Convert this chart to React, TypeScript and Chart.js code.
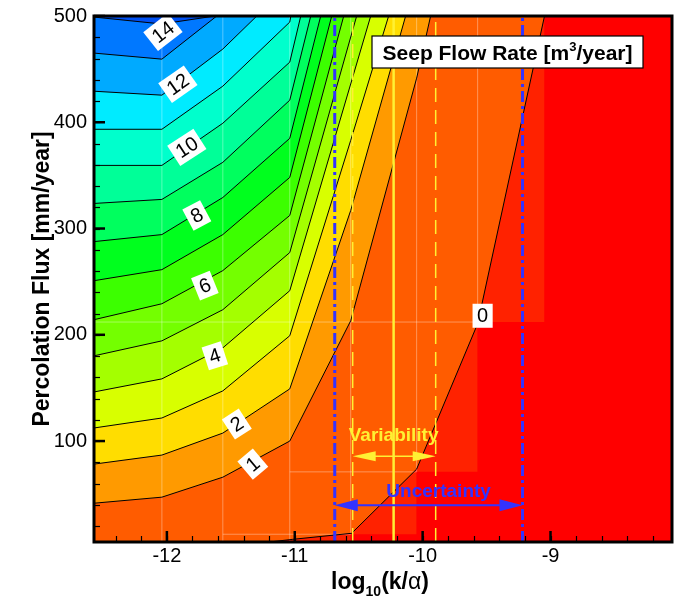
import React, { useEffect, useRef } from 'react';
import { Chart, registerables } from 'chart.js';

Chart.register(...registerables);

const FONT = '"Liberation Sans", Arial, Helvetica, sans-serif';

// Axis ranges and ticks
const X_MIN = -12.57;
const X_MAX = -8.05;
const Y_MIN = 5;
const Y_MAX = 500;
const xMajorTicks = [-12, -11, -10, -9];
const yMajorTicks = [100, 200, 300, 400, 500];
const xMinorStep = 0.2;
const yMinorStep = 20;

// Contour levels (m^3/year) and their polylines [log10(k/alpha), flux]
const contourLevels = [0, 1, 2, 3, 4, 5, 6, 7, 8, 9, 10, 11, 12, 13, 14];
const c0 = [[-11.2, 5], [-11.016, 7.5], [-10.555, 13.2], [-10.047, 73.6], [-9.57, 210.4], [-9.047, 500]];
const c1 = [[-12.57, 41.5], [-12.039, 47.2], [-11.5625, 66.0], [-11.039, 100.0], [-10.5625, 213.2], [-10.047, 441.5], [-9.9375, 500]];
const c2 = [[-12.57, 78.3], [-12.039, 86.8], [-11.5625, 107.5], [-11.039, 149.1], [-10.5625, 317.0], [-10.133, 500]];
const c3 = [[-12.57, 112.3], [-12.039, 121.7], [-11.5625, 147.2], [-11.039, 199.1], [-10.5625, 383.0], [-10.266, 500]];
const c4 = [[-12.57, 146.2], [-12.039, 158.5], [-11.5625, 187.7], [-11.039, 241.5], [-10.406, 500]];
const c5 = [[-12.57, 180.2], [-12.039, 194.3], [-11.5625, 223.6], [-11.039, 277.4], [-10.516, 500]];
const c6 = [[-12.57, 214.2], [-12.039, 229.2], [-11.5625, 260.4], [-11.039, 312.3], [-10.617, 500]];
const c7 = [[-12.57, 250.9], [-12.039, 261.3], [-11.5625, 294.3], [-11.039, 348.1], [-10.711, 500]];
const c8 = [[-12.57, 287.7], [-12.039, 294.3], [-11.5625, 329.2], [-11.039, 384.9], [-10.797, 500]];
const c9 = [[-12.57, 323.6], [-12.039, 327.4], [-11.5625, 362.3], [-11.039, 420.8], [-10.875, 500]];
const c10 = [[-12.57, 359.4], [-12.039, 359.4], [-11.5625, 399.1], [-11.039, 456.6], [-10.953, 500]];
const c11 = [[-12.57, 393.4], [-12.039, 393.4], [-11.5625, 434.0], [-11.039, 494.3], [-11.031, 500]];
const c12 = [[-12.57, 429.2], [-12.039, 425.5], [-11.5625, 468.9], [-11.297, 500]];
const c13 = [[-12.57, 465.1], [-12.039, 459.4], [-11.61, 500]];
const c14 = [[-12.57, 499], [-12.039, 492.5], [-11.625, 500]];
const contours = [c0, c1, c2, c3, c4, c5, c6, c7, c8, c9, c10, c11, c12, c13, c14];

// Band colour above each level
const bandColors = [
  '#FF5C00', '#FF9A00', '#FFDD00', '#D8FF00', '#A4FF00', '#74FF00', '#3CFF00', '#00FF1E',
  '#00FF5E', '#00FF98', '#00FFCC', '#00EBFF', '#00AAFF', '#0078FF', '#0050F2',
];
const belowZeroColor = '#FF0000';
const cellColor = '#FF2200';

// Slightly different red cells right of the 0 contour
const cellX0 = [-11.039, -10.5625, -10.047, -9.57];
const cellX1 = [-10.5625, -10.047, -9.57, -9.047];
const cellY0 = [5, 12.3, 71, 212];
const cellY1 = [12.3, 71, 212, 500];

// Faint data mesh lines
const meshX = [-12.039, -11.5625, -11.039, -10.5625, -10.047, -9.57];
const meshXFrom = [5, 5, 5, 12.3, 71, 212];
const meshY = [12.3, 71, 212];
const meshYFrom = [-11.5625, -11.039, -12.57];
const meshYTo = [-10.5625, -10.047, -9.57];

// Contour labels
const labelText = ['14', '12', '10', '8', '6', '4', '2', '1', '0'];
const labelX = [-12.031, -11.914, -11.844, -11.766, -11.703, -11.625, -11.453, -11.328, -9.531];
const labelY = [484.9, 435.8, 376.4, 312.3, 246.2, 180.2, 116.0, 78.3, 217.9];
const labelAngle = [-38, -35, -33, -28, -22, -18, -33, -40, 0];

// Variability / uncertainty annotations
const bestEstimateX = -10.227;
const variabilityRange = [-10.547, -9.898];
const variabilityArrowY = 85.8;
const variabilityTextPos = [-10.227, 104.7];
const uncertaintyRange = [-10.6875, -9.219];
const uncertaintyArrowY = 39.6;
const uncertaintyTextPos = [-9.875, 51.9];

const YELLOW = '#FFF033';
const BLUE = '#3333FF';

const toPts = (arr: number[][]) => arr.map(([x, y]) => ({ x, y }));

function buildDatasets() {
  const ds: any[] = [];
  const base = { pointRadius: 0, pointHoverRadius: 0, tension: 0 };
  cellX0.forEach((x0, i) => {
    ds.push({
      ...base,
      data: [{ x: x0, y: cellY1[i] }, { x: cellX1[i], y: cellY1[i] }],
      fill: { value: cellY0[i] },
      backgroundColor: cellColor,
      borderColor: 'rgba(0,0,0,0)',
      borderWidth: 0,
      order: 1000,
    });
  });
  contours.forEach((c, k) => {
    const pts = k === 0 ? [[X_MIN, Y_MIN], ...c] : c;
    ds.push({
      ...base,
      data: toPts(pts),
      fill: 'end',
      backgroundColor: bandColors[k],
      borderColor: 'rgba(0,0,0,0)',
      borderWidth: 0,
      order: 900 - contourLevels[k],
    });
  });
  meshX.forEach((x, i) => {
    ds.push({
      ...base,
      data: [{ x, y: meshXFrom[i] }, { x, y: Y_MAX }],
      fill: false,
      borderColor: 'rgba(255,255,255,0.35)',
      borderWidth: 1,
      order: 500,
    });
  });
  meshY.forEach((y, i) => {
    ds.push({
      ...base,
      data: [{ x: meshYFrom[i], y }, { x: meshYTo[i], y }],
      fill: false,
      borderColor: 'rgba(255,255,255,0.35)',
      borderWidth: 1,
      order: 500,
    });
  });
  contours.forEach((c) => {
    ds.push({
      ...base,
      data: toPts(c),
      fill: false,
      borderColor: '#000000',
      borderWidth: 1,
      order: 400,
    });
  });
  const vline = (x: number, color: string, width: number, dash: number[]) => ({
    ...base,
    data: [{ x, y: Y_MIN }, { x, y: Y_MAX }],
    fill: false,
    borderColor: color,
    borderWidth: width,
    borderDash: dash,
    order: 300,
  });
  ds.push(vline(variabilityRange[0], YELLOW, 1.5, [14, 8]));
  ds.push(vline(variabilityRange[1], YELLOW, 1.5, [14, 8]));
  ds.push(vline(bestEstimateX, YELLOW, 2.5, []));
  ds.push(vline(uncertaintyRange[0], BLUE, 3, [11, 4, 3, 4]));
  ds.push(vline(uncertaintyRange[1], BLUE, 3, [11, 4, 3, 4]));
  return ds;
}

function drawArrow(ctx: CanvasRenderingContext2D, x1: number, x2: number, y: number, color: string, lw: number, hl: number, hh: number) {
  ctx.strokeStyle = color;
  ctx.fillStyle = color;
  ctx.lineWidth = lw;
  ctx.setLineDash([]);
  ctx.beginPath();
  ctx.moveTo(x1 + hl * 0.5, y);
  ctx.lineTo(x2 - hl * 0.5, y);
  ctx.stroke();
  ctx.beginPath();
  ctx.moveTo(x1, y);
  ctx.lineTo(x1 + hl, y - hh);
  ctx.lineTo(x1 + hl, y + hh);
  ctx.closePath();
  ctx.fill();
  ctx.beginPath();
  ctx.moveTo(x2, y);
  ctx.lineTo(x2 - hl, y - hh);
  ctx.lineTo(x2 - hl, y + hh);
  ctx.closePath();
  ctx.fill();
}

const overlay = {
  id: 'overlay',
  beforeDraw(chart: any) {
    const { ctx, chartArea: a } = chart;
    ctx.save();
    ctx.fillStyle = '#FFFFFF';
    ctx.fillRect(0, 0, chart.width, chart.height);
    ctx.fillStyle = belowZeroColor;
    ctx.fillRect(a.left, a.top, a.right - a.left, a.bottom - a.top);
    ctx.restore();
  },
  afterDatasetsDraw(chart: any) {
    const { ctx, chartArea: a } = chart;
    const xs = chart.scales.x;
    const ys = chart.scales.y;
    ctx.save();
    // arrows
    drawArrow(ctx, xs.getPixelForValue(variabilityRange[0]), xs.getPixelForValue(variabilityRange[1]),
      ys.getPixelForValue(variabilityArrowY), YELLOW, 1.5, 23, 5);
    drawArrow(ctx, xs.getPixelForValue(uncertaintyRange[0]), xs.getPixelForValue(uncertaintyRange[1]),
      ys.getPixelForValue(uncertaintyArrowY), BLUE, 2, 23, 6);
    ctx.textAlign = 'center';
    ctx.textBaseline = 'middle';
    ctx.font = `bold 19px ${FONT}`;
    ctx.fillStyle = YELLOW;
    ctx.fillText('Variability', xs.getPixelForValue(variabilityTextPos[0]), ys.getPixelForValue(variabilityTextPos[1]));
    ctx.fillStyle = BLUE;
    ctx.fillText('Uncertainty', xs.getPixelForValue(uncertaintyTextPos[0]), ys.getPixelForValue(uncertaintyTextPos[1]));

    // contour labels
    ctx.font = `20px ${FONT}`;
    labelText.forEach((t, i) => {
      const px = xs.getPixelForValue(labelX[i]);
      const py = ys.getPixelForValue(labelY[i]);
      ctx.save();
      ctx.translate(px, py);
      ctx.rotate((labelAngle[i] * Math.PI) / 180);
      const w = ctx.measureText(t).width + 9;
      ctx.fillStyle = '#FFFFFF';
      ctx.fillRect(-w / 2, -12, w, 24);
      ctx.fillStyle = '#000000';
      ctx.fillText(t, 0, 1);
      ctx.restore();
    });

    // legend box
    const bx0 = a.right - 300;
    const bx1 = a.right - 29;
    const by0 = a.top + 20;
    const by1 = a.top + 52;
    ctx.fillStyle = '#FFFFFF';
    ctx.fillRect(bx0, by0, bx1 - bx0, by1 - by0);
    ctx.strokeStyle = '#000000';
    ctx.lineWidth = 1.2;
    ctx.strokeRect(bx0, by0, bx1 - bx0, by1 - by0);
    const big = `bold 21px ${FONT}`;
    const small = `bold 13px ${FONT}`;
    const t1 = 'Seep Flow Rate [m';
    const t2 = '3';
    const t3 = '/year]';
    ctx.font = big;
    const w1 = ctx.measureText(t1).width;
    const w3 = ctx.measureText(t3).width;
    ctx.font = small;
    const w2 = ctx.measureText(t2).width;
    let tx = (bx0 + bx1) / 2 - (w1 + w2 + w3) / 2;
    const base = by1 - 8;
    ctx.textAlign = 'left';
    ctx.textBaseline = 'alphabetic';
    ctx.fillStyle = '#000000';
    ctx.font = big;
    ctx.fillText(t1, tx, base);
    tx += w1;
    ctx.font = small;
    ctx.fillText(t2, tx, base - 9);
    tx += w2;
    ctx.font = big;
    ctx.fillText(t3, tx, base);
    ctx.restore();
  },
  afterDraw(chart: any) {
    const { ctx, chartArea: a } = chart;
    const xs = chart.scales.x;
    const ys = chart.scales.y;
    ctx.save();
    ctx.strokeStyle = '#000000';
    ctx.setLineDash([]);
    // minor ticks
    ctx.lineWidth = 1.2;
    for (let v = Math.ceil(X_MIN / xMinorStep) * xMinorStep; v < X_MAX; v += xMinorStep) {
      const X = Math.round(xs.getPixelForValue(v)) + 0.5;
      ctx.beginPath();
      ctx.moveTo(X, a.bottom);
      ctx.lineTo(X, a.bottom - 6);
      ctx.stroke();
    }
    for (let v = yMinorStep; v < Y_MAX; v += yMinorStep) {
      if (v < Y_MIN) continue;
      const Y = Math.round(ys.getPixelForValue(v)) + 0.5;
      ctx.beginPath();
      ctx.moveTo(a.left, Y);
      ctx.lineTo(a.left + 6, Y);
      ctx.stroke();
    }
    // major ticks
    ctx.lineWidth = 2.5;
    xMajorTicks.forEach((v) => {
      const X = xs.getPixelForValue(v);
      ctx.beginPath();
      ctx.moveTo(X, a.bottom);
      ctx.lineTo(X, a.bottom - 11);
      ctx.stroke();
    });
    yMajorTicks.forEach((v) => {
      const Y = ys.getPixelForValue(v);
      ctx.beginPath();
      ctx.moveTo(a.left, Y);
      ctx.lineTo(a.left + 11, Y);
      ctx.stroke();
    });
    // frame
    ctx.lineWidth = 3;
    ctx.strokeRect(a.left, a.top, a.right - a.left, a.bottom - a.top);

    // tick labels
    ctx.fillStyle = '#000000';
    ctx.font = `20px ${FONT}`;
    ctx.textAlign = 'center';
    ctx.textBaseline = 'middle';
    xMajorTicks.forEach((v) => {
      ctx.fillText(String(v), xs.getPixelForValue(v), a.bottom + 14);
    });
    ctx.textAlign = 'right';
    yMajorTicks.forEach((v) => {
      ctx.fillText(String(v), a.left - 7, ys.getPixelForValue(v));
    });

    // y title
    ctx.save();
    ctx.translate(a.left - 45, (a.top + a.bottom) / 2);
    ctx.rotate(-Math.PI / 2);
    ctx.textAlign = 'center';
    ctx.textBaseline = 'alphabetic';
    ctx.font = `bold 23px ${FONT}`;
    ctx.fillText('Percolation Flux [mm/year]', 0, 0);
    ctx.restore();

    // x title: log10(k/α)
    const bigF = `bold 23px ${FONT}`;
    const subF = `bold 14px ${FONT}`;
    const greekF = `23px ${FONT}`;
    const parts: [string, string, number][] = [
      ['log', bigF, 0],
      ['10', subF, 7],
      ['(k/', bigF, 0],
      ['\u03B1', greekF, 0],
      [')', bigF, 0],
    ];
    let total = 0;
    parts.forEach(([t, f]) => {
      ctx.font = f;
      total += ctx.measureText(t).width;
    });
    let x = (a.left + a.right) / 2 - 3 - total / 2;
    const baseY = a.bottom + 47;
    ctx.textAlign = 'left';
    ctx.textBaseline = 'alphabetic';
    parts.forEach(([t, f, dy]) => {
      ctx.font = f;
      ctx.fillText(t, x, baseY + dy);
      x += ctx.measureText(t).width;
    });
    ctx.restore();
  },
};

export default function App() {
  const ref = useRef<HTMLCanvasElement | null>(null);
  useEffect(() => {
    if (!ref.current) return;
    const chart = new Chart(ref.current, {
      type: 'line',
      data: { datasets: buildDatasets() },
      options: {
        responsive: false,
        animation: false,
        devicePixelRatio: 1,
        events: [],
        layout: { padding: { left: 94, right: 7, top: 16, bottom: 59 } },
        plugins: {
          legend: { display: false },
          tooltip: { enabled: false },
        },
        scales: {
          x: { type: 'linear', min: X_MIN, max: X_MAX, display: false },
          y: { type: 'linear', min: Y_MIN, max: Y_MAX, display: false },
        },
      } as any,
      plugins: [overlay as any],
    });
    return () => chart.destroy();
  }, []);
  return (
    <div style={{ position: 'absolute', left: 0, top: 0, width: 679, height: 601 }}>
      <canvas ref={ref} width={679} height={601} style={{ display: 'block', width: 679, height: 601 }} />
    </div>
  );
}
